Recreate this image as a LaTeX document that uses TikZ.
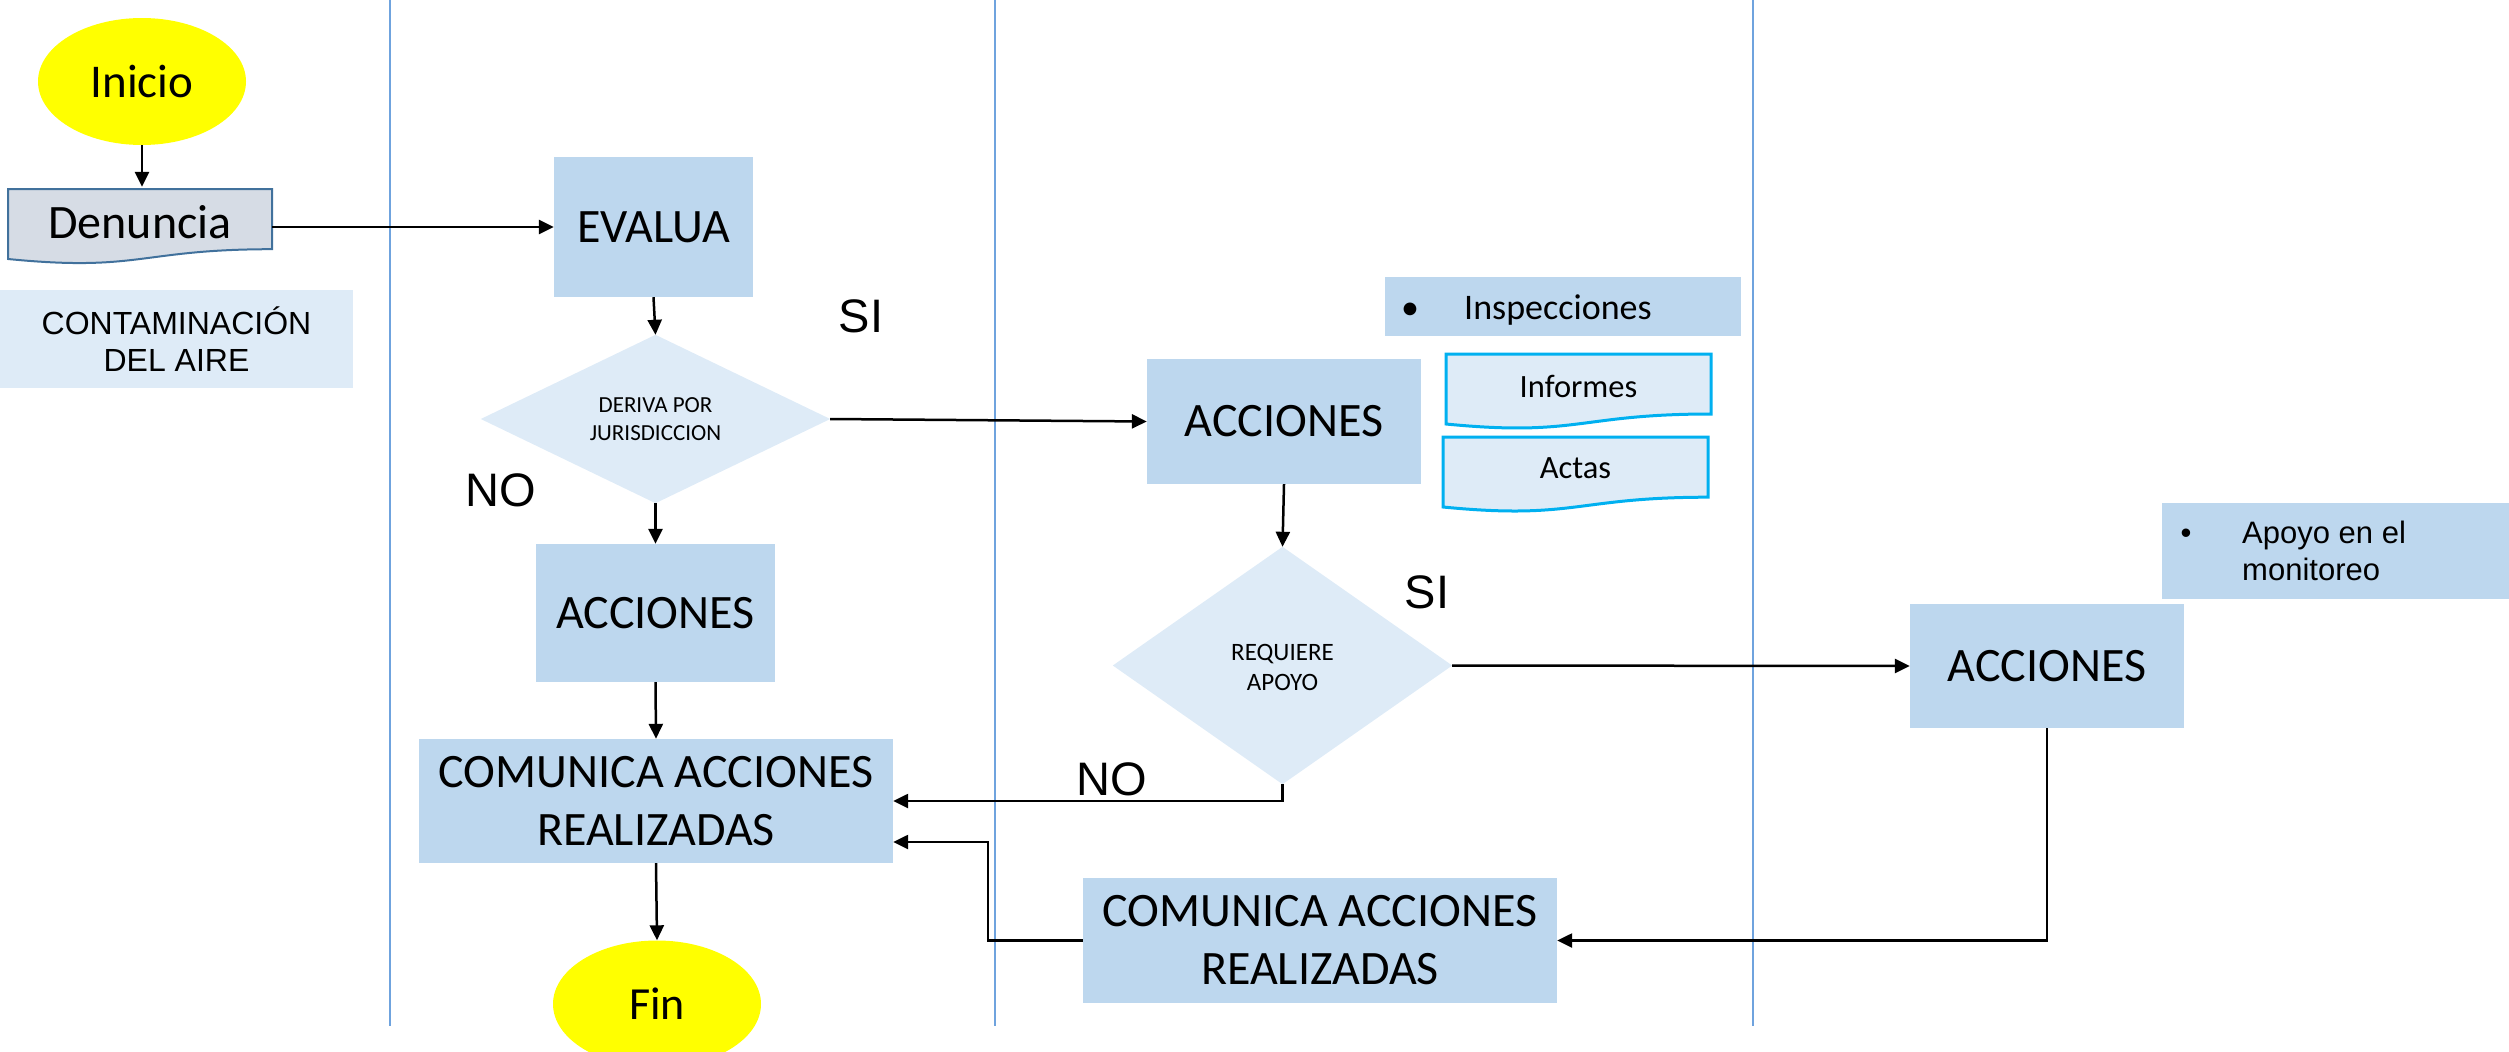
\documentclass[tikz,border=0pt]{standalone}
\usepackage{fontspec}
\setmainfont{Carlito}
\newfontfamily\arialf{Liberation Sans}
\usetikzlibrary{shapes.geometric,arrows.meta,calc}
\definecolor{boxblue}{HTML}{BDD7EE}
\definecolor{lightblue}{HTML}{DEEBF7}
\definecolor{docfill}{HTML}{D6DCE5}
\definecolor{docline}{HTML}{41719C}
\definecolor{cyanline}{HTML}{00B0F0}
\definecolor{laneline}{HTML}{6FA3DE}
\definecolor{startyellow}{HTML}{FFFF00}
\begin{document}
\begin{tikzpicture}[x=1pt,y=-1pt,
  box/.style={rectangle, fill=boxblue, inner sep=0pt, align=center},
  lbox/.style={rectangle, fill=lightblue, inner sep=0pt, align=center},
  ghost/.style={rectangle, inner sep=0pt, align=center},
  term/.style={ellipse, fill=startyellow, inner sep=0pt, minimum width=208pt, minimum height=127pt, font=\fontsize{47}{55}\selectfont},
  big/.style={font=\fontsize{48}{58}\selectfont},
  lbl/.style={inner sep=0pt, font=\arialf\fontsize{47}{56}\selectfont},
  arr/.style={line width=2.5pt, -{Triangle[length=15pt,width=14pt]}},
  lane/.style={draw=laneline, line width=1.2pt},
  docshape/.style={line width=3pt, draw=cyanline, fill=lightblue}]
\useasboundingbox (0,0) rectangle (2509,1052);

% lanes
\draw[lane] (390,0) -- (390,1026);
\draw[lane] (995,0) -- (995,1026);
\draw[lane] (1753,0) -- (1753,1026);

% start
\node[term] (ini) at (142,81.5) {Inicio};

% Denuncia document
\draw[line width=2pt, draw=docline, fill=docfill] (8,189) -- (272,189) -- (272,249.2)
  .. controls (140,249.2) and (140,272.1) .. (8,259) -- cycle;
\node[ghost, minimum width=264pt, minimum height=70pt, font=\fontsize{48}{56}\selectfont] (den) at (140,222) {Denuncia};

\node[lbox, minimum width=353pt, minimum height=98pt, font=\arialf\fontsize{32}{37}\selectfont] (cont) at (176.5,339) {CONTAMINACIÓN\\DEL AIRE};

% lane 2
\node[box, big, minimum width=199pt, minimum height=140pt] (eva) at (653.5,227) {EVALUA};
\node[ghost, minimum width=349pt, minimum height=168pt] (der) at (655.5,419) {};
\fill[lightblue] (der.north) -- (der.east) -- (der.south) -- (der.west) -- cycle;
\node[ghost, font=\fontsize{23}{28}\selectfont] (dertxt) at (der.center) {DERIVA POR\\JURISDICCION};
\node[box, big, minimum width=239pt, minimum height=138pt] (acc1) at (655.5,613) {ACCIONES};
\node[box, big, minimum width=474pt, minimum height=124pt] (com1) at (656,801) {COMUNICA ACCIONES\\REALIZADAS};
\node[term, font=\fontsize{46}{54}\selectfont] (fin) at (657,1004) {Fin};

% lane 3
\node[box, big, minimum width=274pt, minimum height=125pt] (acc2) at (1284,421.5) {ACCIONES};
\node[box, minimum width=356pt, minimum height=59pt] (insp) at (1563,306.5) {};
\node[inner sep=0pt, anchor=base, font=\fontsize{36}{40}\selectfont] (inspb) at (1410,319) {\textbullet};
\node[inner sep=0pt, anchor=base west, font=\fontsize{36}{40}\selectfont] (inspt) at (1464,319) {Inspecciones};

\draw[docshape] (1446,354) -- (1711,354) -- (1711,414)
  .. controls (1578.5,414) and (1578.5,437) .. (1446,424) -- cycle;
\node[ghost, font=\fontsize{32.5}{37}\selectfont] (inf) at (1578.5,386) {Informes};
\draw[docshape] (1443,437) -- (1708,437) -- (1708,497.2)
  .. controls (1575.5,497.2) and (1575.5,520) .. (1443,507) -- cycle;
\node[ghost, font=\fontsize{32.5}{37}\selectfont] (act) at (1575.5,468) {Actas};

\node[ghost, minimum width=339pt, minimum height=237pt] (req) at (1282.5,665.5) {};
\fill[lightblue] (req.north) -- (req.east) -- (req.south) -- (req.west) -- cycle;
\node[ghost, font=\fontsize{25}{30}\selectfont] (reqtxt) at (1282.5,667) {REQUIERE\\APOYO};
\node[box, big, minimum width=474pt, minimum height=125pt] (com2) at (1320,940.5) {COMUNICA ACCIONES\\REALIZADAS};

% lane 4
\node[box, minimum width=347pt, minimum height=96pt] (apo) at (2335.5,551) {};
\node[inner sep=0pt, anchor=base, font=\arialf\fontsize{31}{37}\selectfont] (apob) at (2186,543) {\textbullet};
\node[inner sep=0pt, anchor=base west, font=\arialf\fontsize{31}{37}\selectfont] (apot1) at (2242,543) {Apoyo en el};
\node[inner sep=0pt, anchor=base west, font=\arialf\fontsize{31}{37}\selectfont] (apot2) at (2242,580) {monitoreo};
\node[box, big, minimum width=274pt, minimum height=124pt] (acc3) at (2047,666) {ACCIONES};

% labels
\node[lbl] (si1) at (861,316) {SI};
\node[lbl] (no1) at (501,490) {NO};
\node[lbl] (si2) at (1427,592) {SI};
\node[lbl] (no2) at (1112,779) {NO};

% connectors
\draw[arr] (ini.south) -- (ini.south |- den.north);
\draw[arr] (den.east |- eva.west) -- (eva.west);
\draw[arr] (eva.south) -- (der.north);
\draw[arr] (der.south) -- (acc1.north);
\draw[arr] (der.east) -- (acc2.west);
\draw[arr] (acc1.south) -- (com1.north);
\draw[arr] (com1.south) -- (fin.north);
\draw[arr] (acc2.south) -- (req.north);
\draw[arr] (req.east) -- (acc3.west);
\draw[arr] (req.south) |- (com1.east);
\draw[arr] (com2.west) -- ++(-95,0) |- ($(com1.east)+(0,41)$);
\draw[arr] (acc3.south) |- (com2.east);
\end{tikzpicture}
\end{document}
